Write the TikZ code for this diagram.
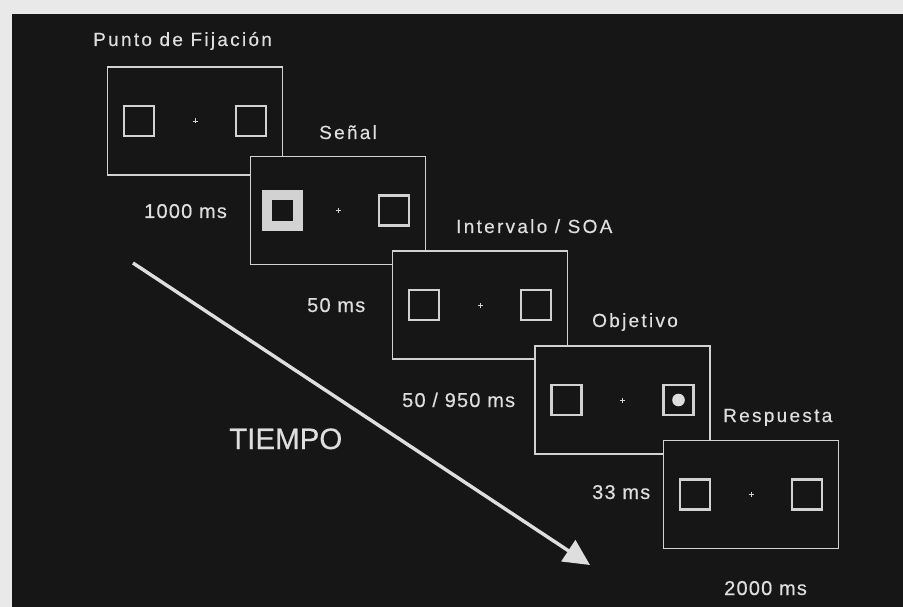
\documentclass[tikz,border=0pt]{standalone}
\usepackage{fontspec}
\setmainfont{Liberation Sans}[FakeBold=0.4]
\newfontfamily\titulofont[LetterSpace=12,FakeBold=0.4]{Liberation Sans}
\newfontfamily\tiempofont[LetterSpace=6,FakeBold=0.4]{Liberation Sans}
\usetikzlibrary{arrows.meta,positioning}
\definecolor{fondo}{HTML}{161616}
\definecolor{marco}{HTML}{E9E9E9}
\definecolor{tinta}{HTML}{DEDEDE}
\definecolor{linea}{HTML}{D2D2D2}
\tikzset{
  pantalla/.style={draw=linea, line width=1.4pt, fill=fondo, minimum width=175pt, minimum height=108pt, inner sep=0},
  caja/.style={draw=linea, line width=2.4pt, minimum size=30pt, inner sep=0},
  senal/.style={draw=linea, line width=10pt, minimum size=31pt, inner sep=0},
  fijacion/.style={draw=linea, line width=0.9pt},
  titulo/.style={text=tinta, anchor=base west, inner sep=0, font=\titulofont\fontsize{19}{22}\selectfont},
  duracion/.style={text=tinta, anchor=base west, inner sep=0, font=\tiempofont\fontsize{20}{23}\selectfont},
  flecha/.style={draw=tinta, line width=3.4pt, -{Triangle[length=26pt,width=25pt]}}
}
\begin{document}
\begin{tikzpicture}[x=1pt, y=-1pt]
  % Background
  \fill[marco] (0,0) rectangle (903,607);
  \fill[fondo] (12,14) rectangle (903,607);
  \useasboundingbox (0,0) rectangle (903,607);

  % Screens, each one on top of the previous
  \foreach \n/\cx/\cy in {1/195/121, 2/338/210.5, 3/480/305, 4/622.5/400, 5/751/494.5} {
    \node[pantalla] (f\n) at (\cx,\cy) {};
    \node[caja] (f\n l) at ([xshift=-56pt]f\n.center) {};
    \node[caja] (f\n r) at ([xshift=56pt]f\n.center) {};
    \draw[fijacion] ([xshift=-2.5pt]f\n.center) -- ([xshift=2.5pt]f\n.center);
    \draw[fijacion] ([yshift=-2.5pt]f\n.center) -- ([yshift=2.5pt]f\n.center);
  }

  % Cue: thick left box
  \fill[fondo] ([xshift=-20.5pt,yshift=-20.5pt]f2l.center) rectangle ([xshift=20.5pt,yshift=20.5pt]f2l.center);
  \node[senal] (cue) at (f2l.center) {};

  % Target: dot in right box
  \fill[tinta] (f4r.center) circle (6.3pt);

  % Stage labels
  \node[titulo] (t1) at (93,46) {Punto de Fijación};
  \node[titulo] (t2) at (319,139) {Señal};
  \node[titulo] (t3) at (456,233) {Intervalo / SOA};
  \node[titulo] (t4) at (592,327) {Objetivo};
  \node[titulo] (t5) at (723,422) {Respuesta};

  % Durations
  \node[duracion] (d1) at (144,218) {1000 ms};
  \node[duracion] (d2) at (307,312) {50 ms};
  \node[duracion] (d3) at (402,407) {50 / 950 ms};
  \node[duracion] (d4) at (592,499) {33 ms};
  \node[duracion] (d5) at (724,595) {2000 ms};

  % Time arrow
  \coordinate (a0) at (133,263);
  \coordinate (a1) at (590,565);
  \draw[flecha] (a0) -- (a1);
  \node[text=tinta, anchor=base west, inner sep=0, font=\fontsize{29.5}{32}\selectfont] (tiempo) at (229,449) {TIEMPO};
\end{tikzpicture}
\end{document}
